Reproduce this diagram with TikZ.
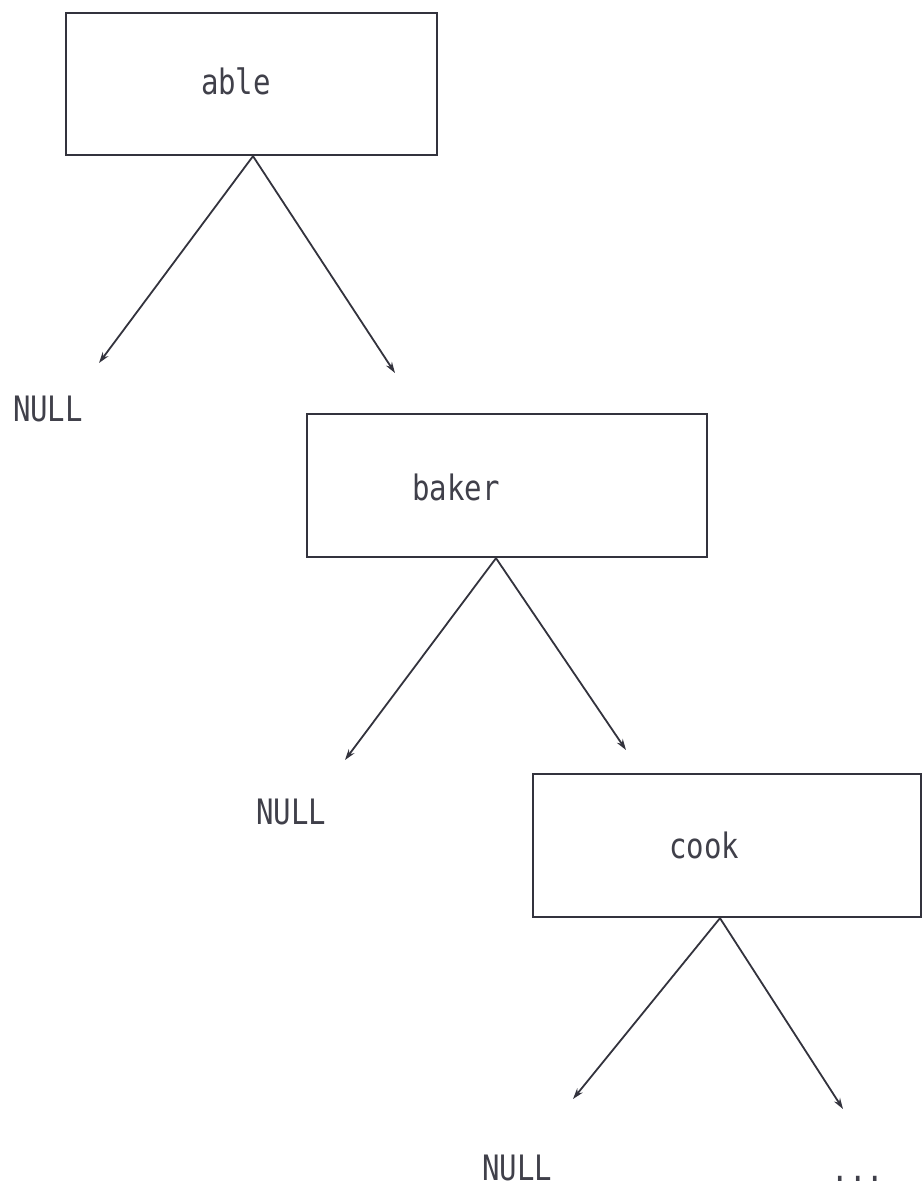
\documentclass[tikz,border=0pt]{standalone}
\usepackage{fontspec}
\newfontfamily\treefont[FakeStretch=0.83]{DejaVu Sans Mono}
\definecolor{Ink}{rgb}{0.2,0.2,0.24}
\definecolor{Letter}{rgb}{0.25,0.25,0.29}
\usepackage{tikz}
\usetikzlibrary{arrows.meta, calc, positioning}

\begin{document}
\begin{tikzpicture}[x=1pt, y=-1pt,
  cell/.style={draw=Ink, line width=2.3pt, rectangle, inner sep=0pt},
  word/.style={text=Letter, font=\treefont\fontsize{35pt}{40pt}\selectfont, inner sep=0pt},
  link/.style={draw=Ink, line width=1.8pt, -{Stealth[length=11pt, width=7pt]}}]
\useasboundingbox (0,0) rectangle (923,1189);
%able
\node[cell, minimum width=371pt, minimum height=142pt] (able) at (251.5,84) {};
\node[word] (able-t) at (236,81) {able};
\coordinate (able-l) at (99,363);
\coordinate (able-r) at (395,373);
\draw[link] ([xshift=1.5pt]able.south) -- (able-l);
\draw[link] ([xshift=1.5pt]able.south) -- (able-r);
\node[word] (null-a) at (48,409) {NULL};
%baker
\node[cell, minimum width=400pt, minimum height=143pt] (baker) at (507,485.5) {};
\node[word] (baker-t) at (456,487) {baker};
\coordinate (baker-l) at (345,760);
\coordinate (baker-r) at (626,750);
\draw[link] ([xshift=-11pt]baker.south) -- (baker-l);
\draw[link] ([xshift=-11pt]baker.south) -- (baker-r);
\node[word] (null-b) at (291,812) {NULL};
%cook
\node[cell, minimum width=388pt, minimum height=143pt] (cook) at (727,845.5) {};
\node[word] (cook-t) at (704,845) {cook};
\coordinate (cook-l) at (573,1099);
\coordinate (cook-r) at (843,1109);
\draw[link] ([xshift=-7pt]cook.south) -- (cook-l);
\draw[link] ([xshift=-7pt]cook.south) -- (cook-r);
\node[word] (null-c) at (517,1168) {NULL};
\node[word] (more) at (858,1179) {...};
\end{tikzpicture}
\end{document}
